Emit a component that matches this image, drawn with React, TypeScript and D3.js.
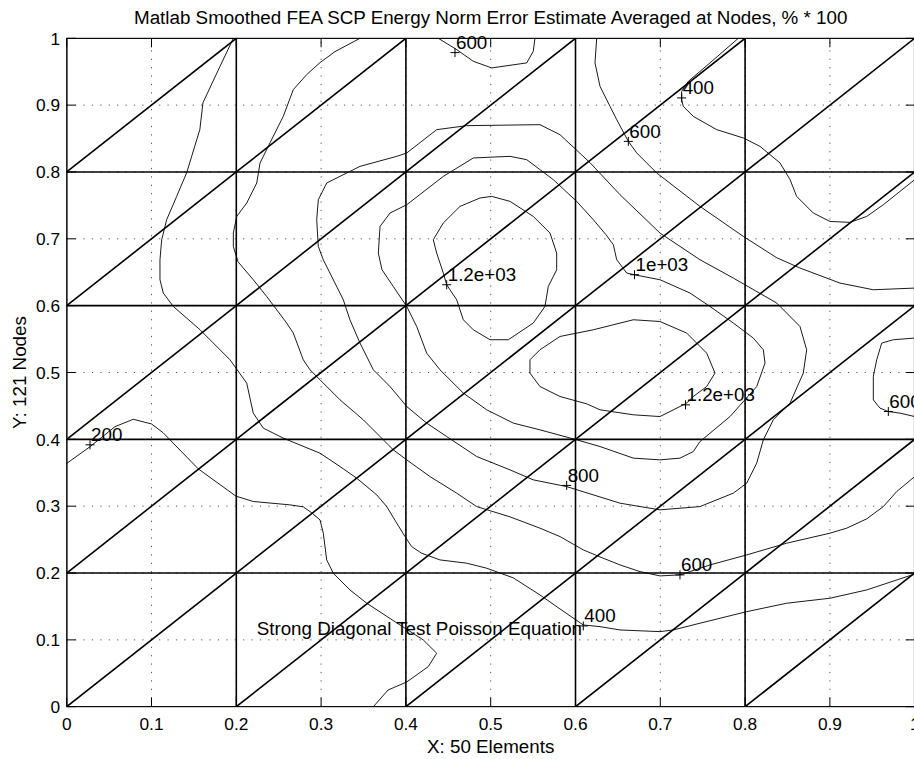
import React from 'react';
import * as d3 from 'd3';

type Pt = [number, number];

// Chart frame
const WIDTH = 914;
const HEIGHT = 759;
const PLOT = { left: 66.7, right: 914.7, top: 38.3, bottom: 706.7 };

// Finite element mesh: 6 x 6 element corners, each square split along its rising diagonal
const meshNodes = [0, 0.2, 0.4, 0.6, 0.8, 1.0];

// Axis ticks / grid
const tickValues = [0, 0.1, 0.2, 0.3, 0.4, 0.5, 0.6, 0.7, 0.8, 0.9, 1];
const tickLabels = ['0', '0.1', '0.2', '0.3', '0.4', '0.5', '0.6', '0.7', '0.8', '0.9', '1'];

// Contour levels of the error estimate
const contourLevels = [200, 400, 600, 800, 1000, 1200];

// Contour polylines (x, y in model units)
const c200: Pt[] = [
  [0, 0.364], [0.0275, 0.389], [0.057, 0.419], [0.0785, 0.430], [0.100, 0.423], [0.1136, 0.410],
  [0.155, 0.356], [0.1996, 0.315], [0.220, 0.307], [0.263, 0.302], [0.279, 0.299], [0.289, 0.290],
  [0.2987, 0.2795], [0.3026, 0.2596], [0.3066, 0.2196], [0.3144, 0.1997], [0.334, 0.1747],
  [0.3538, 0.1548], [0.393, 0.1223], [0.4205, 0.0999], [0.4363, 0.080], [0.4264, 0.060],
  [0.401, 0.037], [0.379, 0.025], [0.3616, 0],
];

const c400a: Pt[] = [
  [0.1965, 1.0], [0.1808, 0.958], [0.1607, 0.9037], [0.157, 0.8633], [0.1415, 0.799], [0.1297, 0.7635],
  [0.1179, 0.7286], [0.112, 0.6987], [0.110, 0.6687], [0.110, 0.6388], [0.1139, 0.6189], [0.1257, 0.5988],
  [0.1572, 0.564], [0.1926, 0.519], [0.2123, 0.4841], [0.220, 0.4392], [0.2318, 0.4168], [0.2554, 0.4018],
  [0.2987, 0.3793], [0.3223, 0.3593], [0.342, 0.3419], [0.3656, 0.3169], [0.3774, 0.2994], [0.3892, 0.2746],
  [0.399, 0.2545], [0.4068, 0.2395], [0.4186, 0.2296], [0.4402, 0.2196], [0.4717, 0.2147], [0.4953, 0.2072],
  [0.5267, 0.1927], [0.5581, 0.1672], [0.5817, 0.1463], [0.6092, 0.1223], [0.6289, 0.1198], [0.6525, 0.1148],
  [0.6996, 0.1123], [0.7153, 0.1148], [0.7468, 0.1249], [0.8019, 0.1422], [0.849, 0.1548], [0.9001, 0.1623],
  [0.9434, 0.1747], [1.0, 0.1985],
];

const c400b: Pt[] = [
  [0.792, 1.0], [0.7586, 0.9632], [0.733, 0.9356], [0.7252, 0.9207], [0.7252, 0.9082], [0.7271, 0.8982],
  [0.7389, 0.8832], [0.7665, 0.8633], [0.7979, 0.8509], [0.8176, 0.8383], [0.8412, 0.8135], [0.853, 0.7885],
  [0.8608, 0.7635], [0.8804, 0.7386], [0.9001, 0.726], [0.9237, 0.7246], [0.9434, 0.7335], [0.963, 0.751],
  [1.0, 0.7885],
];

const c600a: Pt[] = [
  [0.3459, 1.0], [0.3164, 0.9801], [0.2987, 0.9636], [0.283, 0.9457], [0.2672, 0.9232], [0.2554, 0.8832],
  [0.2397, 0.8434], [0.228, 0.8135], [0.2241, 0.7835], [0.2123, 0.7536], [0.2005, 0.7335], [0.1965, 0.7087],
  [0.1965, 0.6886], [0.202, 0.6657], [0.22, 0.6388], [0.2358, 0.6138], [0.2594, 0.574], [0.2672, 0.559],
  [0.279, 0.519], [0.2869, 0.504], [0.2987, 0.4891], [0.3223, 0.4591], [0.3498, 0.4292], [0.3695, 0.4042],
  [0.3851, 0.3843], [0.401, 0.3693], [0.4284, 0.3443], [0.4599, 0.3195], [0.4835, 0.2994], [0.5228, 0.284],
  [0.5581, 0.2671], [0.5817, 0.2545], [0.6092, 0.2346], [0.6289, 0.2241], [0.6525, 0.2121], [0.6761, 0.2021],
  [0.6996, 0.1957], [0.7232, 0.1972], [0.7586, 0.2121], [0.8019, 0.2271], [0.849, 0.2446], [0.9001, 0.2596],
  [0.9198, 0.2671], [0.9434, 0.281], [0.963, 0.2994], [0.9788, 0.3219], [1.0, 0.3443],
];

const c600b: Pt[] = [
  [0.625, 1.0], [0.623, 0.9632], [0.6289, 0.9281], [0.6407, 0.8982], [0.6486, 0.8783], [0.6623, 0.8458],
  [0.6722, 0.8285], [0.6958, 0.7985], [0.7468, 0.7485], [0.7979, 0.7036], [0.8373, 0.6717], [0.8647, 0.6563],
  [0.9119, 0.6338], [0.9512, 0.6238], [1.0, 0.6263],
];

const c600c: Pt[] = [
  [0.4382, 1.0], [0.4599, 0.9831], [0.4795, 0.9656], [0.5012, 0.9557], [0.5425, 0.9632], [0.5502, 0.9805],
  [0.5522, 1.0],
];

const c600d: Pt[] = [
  [1.0, 0.5515], [0.9748, 0.549], [0.9611, 0.544], [0.9552, 0.519], [0.9512, 0.494], [0.9512, 0.4591],
  [0.9591, 0.4467], [0.9689, 0.4416], [0.9827, 0.4392], [1.0, 0.4341],
];

const c800: Pt[] = [
  [0.2967, 0.6886], [0.2948, 0.7286], [0.2967, 0.7585], [0.3066, 0.7835], [0.3459, 0.8084], [0.3892, 0.8234],
  [0.401, 0.8284], [0.4363, 0.8633], [0.4717, 0.8693], [0.5581, 0.8708], [0.5817, 0.8558], [0.6171, 0.8139],
  [0.6525, 0.766], [0.6996, 0.7087], [0.7468, 0.6687], [0.7861, 0.6413], [0.8373, 0.6039], [0.8647, 0.5689],
  [0.8726, 0.534], [0.8686, 0.4991], [0.853, 0.4542], [0.8333, 0.4292], [0.8215, 0.3993], [0.8137, 0.3644],
  [0.8019, 0.3344], [0.7861, 0.3195], [0.7468, 0.2994], [0.6996, 0.2945], [0.6525, 0.3045], [0.5896, 0.3293],
  [0.5502, 0.3394], [0.5228, 0.3543], [0.4835, 0.3743], [0.4481, 0.4042], [0.4245, 0.4243], [0.401, 0.4491],
  [0.3813, 0.479], [0.3616, 0.504], [0.3459, 0.544], [0.334, 0.5789], [0.3262, 0.6088], [0.3026, 0.6687],
];

const c1000: Pt[] = [
  [0.3695, 0.7186], [0.3813, 0.7386], [0.401, 0.751], [0.4441, 0.7934], [0.4795, 0.821], [0.5228, 0.8234],
  [0.5425, 0.8184], [0.5738, 0.7885], [0.6014, 0.756], [0.621, 0.7286], [0.636, 0.7061], [0.6446, 0.6912],
  [0.6486, 0.6687], [0.6604, 0.6488], [0.669, 0.6463], [0.6996, 0.6388], [0.735, 0.6189], [0.7586, 0.5988],
  [0.7861, 0.574], [0.8097, 0.5515], [0.8215, 0.534], [0.8235, 0.5141], [0.8137, 0.479], [0.7822, 0.4341],
  [0.7468, 0.3967], [0.7389, 0.3817], [0.7232, 0.3719], [0.6996, 0.3693], [0.6682, 0.3719], [0.6289, 0.3892],
  [0.6014, 0.3993], [0.5581, 0.4142], [0.5267, 0.4243], [0.4953, 0.4442], [0.4677, 0.4692], [0.4402, 0.504],
  [0.4245, 0.529], [0.4127, 0.5689], [0.401, 0.5988], [0.3851, 0.6287], [0.3718, 0.6537], [0.3675, 0.6787],
];

const c1200a: Pt[] = [
  [0.4323, 0.6987], [0.4441, 0.7237], [0.4638, 0.7485], [0.4874, 0.7611], [0.5012, 0.7635], [0.5228, 0.756],
  [0.5502, 0.7335], [0.5699, 0.7087], [0.5778, 0.6787], [0.5778, 0.6537], [0.5679, 0.6287], [0.564, 0.5988],
  [0.5502, 0.574], [0.5208, 0.549], [0.4992, 0.549], [0.4795, 0.5639], [0.4677, 0.5789], [0.4599, 0.6088],
  [0.4481, 0.6313], [0.4441, 0.6488], [0.4363, 0.6787],
];

const c1200b: Pt[] = [
  [0.5463, 0.519], [0.5581, 0.534], [0.5817, 0.5539], [0.621, 0.5639], [0.6682, 0.5789], [0.6996, 0.5763],
  [0.7311, 0.559], [0.7547, 0.529], [0.7645, 0.4991], [0.7547, 0.479], [0.7389, 0.4641], [0.7311, 0.4542],
  [0.7232, 0.4491], [0.6996, 0.4341], [0.6682, 0.4367], [0.6289, 0.4442], [0.6132, 0.4531], [0.5817, 0.4641],
  [0.5581, 0.479], [0.5463, 0.4991],
];

const contourLines: { level: number; closed: boolean; points: Pt[] }[] = [
  { level: 200, closed: false, points: c200 },
  { level: 400, closed: false, points: c400a },
  { level: 400, closed: false, points: c400b },
  { level: 600, closed: false, points: c600a },
  { level: 600, closed: false, points: c600b },
  { level: 600, closed: false, points: c600c },
  { level: 600, closed: false, points: c600d },
  { level: 800, closed: true, points: c800 },
  { level: 1000, closed: true, points: c1000 },
  { level: 1200, closed: true, points: c1200a },
  { level: 1200, closed: true, points: c1200b },
];

// clabel positions ("+" marker sits on the contour, value printed beside it)
const contourLabels: { level: number; x: number; y: number }[] = [
  { level: 200, x: 0.0275, y: 0.3918 },
  { level: 400, x: 0.6092, y: 0.1208 },
  { level: 400, x: 0.7252, y: 0.9108 },
  { level: 600, x: 0.4579, y: 0.9786 },
  { level: 600, x: 0.6623, y: 0.8458 },
  { level: 600, x: 0.7232, y: 0.1972 },
  { level: 600, x: 0.9689, y: 0.4416 },
  { level: 800, x: 0.5896, y: 0.3311 },
  { level: 1000, x: 0.6696, y: 0.6463 },
  { level: 1200, x: 0.4481, y: 0.6313 },
  { level: 1200, x: 0.7297, y: 0.4516 },
];

const titleText = 'Matlab Smoothed FEA SCP Energy Norm Error Estimate Averaged at Nodes, % * 100';
const xLabelText = 'X: 50 Elements';
const yLabelText = 'Y: 121 Nodes';
const noteText = 'Strong Diagonal Test Poisson Equation';
const notePos: Pt = [0.224, 0.1073];

// printf-style "%.3g" as used by clabel
function fmtLevel(v: number): string {
  if (v === 0) return '0';
  const e = Math.floor(Math.log10(Math.abs(v)));
  if (e >= 3 || e < -4) {
    let m = (v / Math.pow(10, e)).toPrecision(3);
    if (m.indexOf('.') >= 0) m = m.replace(/0+$/, '').replace(/\.$/, '');
    const sign = e < 0 ? '-' : '+';
    return `${m}e${sign}${String(Math.abs(e)).padStart(2, '0')}`;
  }
  return String(Number(v.toPrecision(3)));
}

const FONT = '"Liberation Sans", Arial, Helvetica, sans-serif';

export default function App() {
  const x = d3.scaleLinear().domain([0, 1]).range([PLOT.left, PLOT.right]);
  const y = d3.scaleLinear().domain([0, 1]).range([PLOT.bottom, PLOT.top]);
  const openLine = d3.line<Pt>().x((d) => x(d[0])).y((d) => y(d[1]));
  const closedLine = d3.line<Pt>().x((d) => x(d[0])).y((d) => y(d[1])).curve(d3.curveLinearClosed);

  const lo = meshNodes[0];
  const hi = meshNodes[meshNodes.length - 1];
  const diagonals: [Pt, Pt][] = [];
  for (let i = 0; i < meshNodes.length - 1; i++) {
    for (let j = 0; j < meshNodes.length - 1; j++) {
      diagonals.push([[meshNodes[i], meshNodes[j]], [meshNodes[i + 1], meshNodes[j + 1]]]);
    }
  }

  const tickLen = 9;
  const plusHalf = 4.5;

  return (
    <svg
      width={WIDTH}
      height={HEIGHT}
      viewBox={`0 0 ${WIDTH} ${HEIGHT}`}
      style={{ position: 'absolute', left: 0, top: 0, background: '#fff', display: 'block' }}
    >
      <defs>
        <clipPath id="plotClip">
          <rect x={PLOT.left} y={PLOT.top} width={PLOT.right - PLOT.left} height={PLOT.bottom - PLOT.top} />
        </clipPath>
      </defs>
      <rect x={0} y={0} width={WIDTH} height={HEIGHT} fill="#fff" />

      {/* dotted grid */}
      <g stroke="#555" strokeWidth={1} strokeDasharray="1.2 7.2">
        {tickValues.slice(1, -1).map((t) => (
          <line key={`gx${t}`} x1={x(t)} x2={x(t)} y1={y(0)} y2={y(1)} />
        ))}
        {tickValues.slice(1, -1).map((t) => (
          <line key={`gy${t}`} x1={x(0)} x2={x(1)} y1={y(t)} y2={y(t)} />
        ))}
      </g>

      {/* contour lines */}
      <g clipPath="url(#plotClip)" fill="none" stroke="#000" strokeWidth={0.9} strokeLinejoin="round">
        {contourLines.map((c, i) => (
          <path key={`c${i}`} d={(c.closed ? closedLine : openLine)(c.points) || ''} data-level={c.level} />
        ))}
      </g>

      {/* mesh */}
      <g clipPath="url(#plotClip)" stroke="#000" strokeWidth={1.6}>
        {meshNodes.map((n) => (
          <line key={`mv${n}`} x1={x(n)} x2={x(n)} y1={y(lo)} y2={y(hi)} />
        ))}
        {meshNodes.map((n) => (
          <line key={`mh${n}`} x1={x(lo)} x2={x(hi)} y1={y(n)} y2={y(n)} />
        ))}
        {diagonals.map((d, i) => (
          <line key={`md${i}`} x1={x(d[0][0])} y1={y(d[0][1])} x2={x(d[1][0])} y2={y(d[1][1])} />
        ))}
      </g>

      {/* contour labels */}
      <g>
        {contourLabels.map((l, i) => {
          const px = x(l.x);
          const py = y(l.y);
          return (
            <g key={`l${i}`}>
              <line x1={px - plusHalf} x2={px + plusHalf} y1={py} y2={py} stroke="#000" strokeWidth={1} />
              <line x1={px} x2={px} y1={py - plusHalf} y2={py + plusHalf} stroke="#000" strokeWidth={1} />
              <text x={px + 1} y={py - 3.5} fontFamily={FONT} fontSize={18.8} fill="#000">
                {fmtLevel(contourLevels.find((v) => v === l.level) ?? l.level)}
              </text>
            </g>
          );
        })}
      </g>

      {/* axes box and ticks */}
      <rect x={x(0)} y={y(1)} width={x(1) - x(0)} height={y(0) - y(1)} fill="none" stroke="#000" strokeWidth={1} />
      <g stroke="#000" strokeWidth={1}>
        {tickValues.map((t) => (
          <g key={`t${t}`}>
            <line x1={x(t)} x2={x(t)} y1={y(0)} y2={y(0) - tickLen} />
            <line x1={x(t)} x2={x(t)} y1={y(1)} y2={y(1) + tickLen} />
            <line x1={x(0)} x2={x(0) + tickLen} y1={y(t)} y2={y(t)} />
            <line x1={x(1) - tickLen} x2={x(1)} y1={y(t)} y2={y(t)} />
          </g>
        ))}
      </g>

      {/* tick labels */}
      <g fontFamily={FONT} fontSize={17.3} fill="#000">
        {tickValues.map((t, i) => (
          <text key={`xl${t}`} x={x(t)} y={730} textAnchor="middle">
            {tickLabels[i]}
          </text>
        ))}
        {tickValues.map((t, i) => (
          <text key={`yl${t}`} x={60} y={y(t) + 6.2} textAnchor="end">
            {tickLabels[i]}
          </text>
        ))}
      </g>

      {/* title and axis labels */}
      <text x={(x(0) + x(1)) / 2} y={24} textAnchor="middle" fontFamily={FONT} fontSize={18.8} fill="#000">
        {titleText}
      </text>
      <text x={(x(0) + x(1)) / 2} y={753} textAnchor="middle" fontFamily={FONT} fontSize={18.8} fill="#000">
        {xLabelText}
      </text>
      <text
        transform={`translate(26, ${(y(0) + y(1)) / 2}) rotate(-90)`}
        textAnchor="middle"
        fontFamily={FONT}
        fontSize={18.8}
        fill="#000"
      >
        {yLabelText}
      </text>

      {/* annotation */}
      <text x={x(notePos[0])} y={y(notePos[1])} fontFamily={FONT} fontSize={18.8} fill="#000">
        {noteText}
      </text>
    </svg>
  );
}
